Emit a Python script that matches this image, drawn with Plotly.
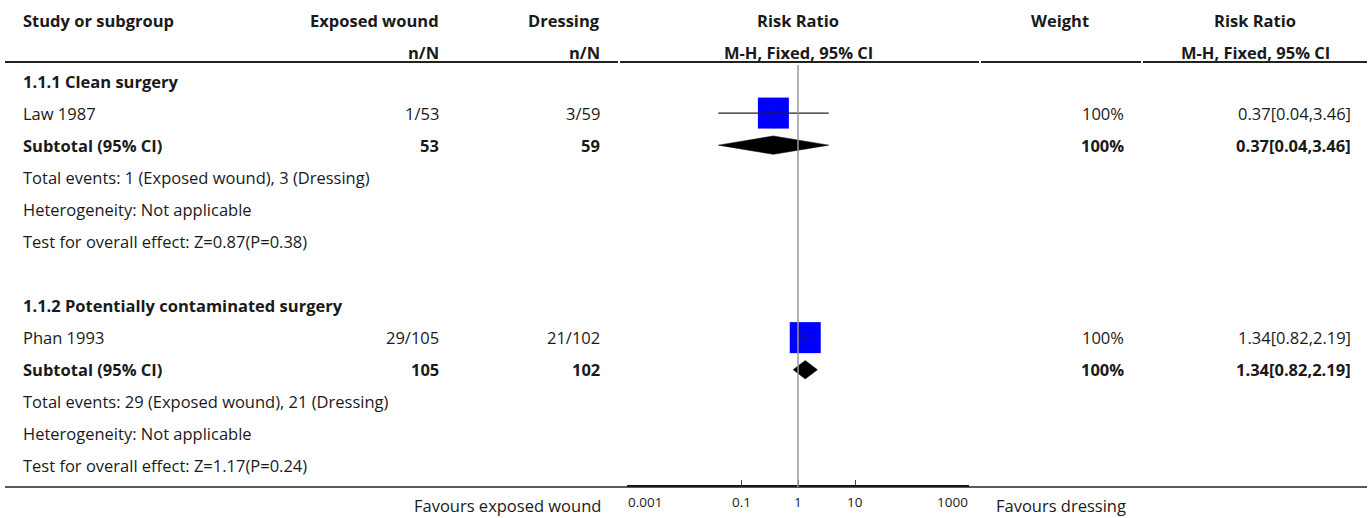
import math
import plotly.graph_objects as go

# ---- data -------------------------------------------------------------
subgroups = ["1.1.1 Clean surgery", "1.1.2 Potentially contaminated surgery"]
studies = ["Law 1987", "Phan 1993"]
exp_events = [1, 29]
exp_total = [53, 105]
ctl_events = [3, 21]
ctl_total = [59, 102]
rr = [0.37, 1.34]
ci_lo = [0.04, 0.82]
ci_hi = [3.46, 2.19]
weights = [100, 100]
z_vals = [0.87, 1.17]
p_vals = [0.38, 0.24]
tick_vals = [0.001, 0.1, 1, 10, 1000]
tick_text = ["0.001", "0.1", "1", "10", "1000"]

# ---- geometry ---------------------------------------------------------
W, H = 1370, 518
ROW0, ROWH = 81.0, 32.08          # pixel centre of row 0, row pitch


def row_of(px):
    return (px - ROW0) / ROWH


FONT = "Open Sans"
TXT = "#1a1a1a"
BODY = 16.5

fig = go.Figure()
annotations = []
shapes = []


def text(x_px, row, s, anchor="left", bold=False, size=BODY, color=TXT):
    annotations.append(dict(
        x=x_px / W, xref="paper", y=row, yref="y",
        text=f"<b>{s}</b>" if bold else s, showarrow=False,
        xanchor=anchor, yanchor="middle", align=anchor,
        borderpad=0,
        font=dict(family=FONT, size=size, color=color),
    ))


def hline(x0, x1, row, width, color="#222222"):
    shapes.append(dict(type="line", xref="paper", yref="y",
                       x0=x0 / W, x1=x1 / W, y0=row, y1=row,
                       line=dict(color=color, width=width)))


# column headers
h1, h2 = row_of(20), row_of(52)
text(22, h1, "Study or subgroup", bold=True)
text(440, h1, "Exposed wound", "right", bold=True)
text(440, h2, "n/N", "right", bold=True)
text(601, h1, "Dressing", "right", bold=True)
text(601, h2, "n/N", "right", bold=True)
text(798, h1, "Risk Ratio", "center", bold=True)
text(798, h2, "M-H, Fixed, 95% CI", "center", bold=True)
text(1060, h1, "Weight", "center", bold=True)
text(1255, h1, "Risk Ratio", "center", bold=True)
text(1255, h2, "M-H, Fixed, 95% CI", "center", bold=True)

# header rule, broken at column boundaries
for x0, x1 in [(5, 618), (620, 979), (981, 1141), (1143, 1367)]:
    hline(x0, x1, row_of(62), 2)

# bottom rule
hline(5, 1367, row_of(487), 1.5)

# reference line at RR = 1
shapes.append(dict(type="line", xref="x", yref="y", x0=1, x1=1,
                   y0=row_of(65), y1=row_of(487),
                   line=dict(color="#999999", width=1.5)))

# ---- body rows ---------------------------------------------------------
for g in range(2):
    base = 7 * g
    r_head, r_study, r_sub = base, base + 1, base + 2
    text(22, r_head, subgroups[g], bold=True)
    text(22, r_study, studies[g])
    text(440, r_study, f"{exp_events[g]}/{exp_total[g]}", "right")
    text(601, r_study, f"{ctl_events[g]}/{ctl_total[g]}", "right")
    est = f"{rr[g]:.2f}[{ci_lo[g]:.2f},{ci_hi[g]:.2f}]"
    text(1125, r_study, f"{weights[g]}%", "right")
    text(1352, r_study, est, "right")

    text(22, r_sub, "Subtotal (95% CI)", bold=True)
    text(440, r_sub, f"{exp_total[g]}", "right", bold=True)
    text(601, r_sub, f"{ctl_total[g]}", "right", bold=True)
    text(1125, r_sub, f"{weights[g]}%", "right", bold=True)
    text(1352, r_sub, est, "right", bold=True)

    text(22, base + 3, f"Total events: {exp_events[g]} (Exposed wound), "
                      f"{ctl_events[g]} (Dressing)")
    text(22, base + 4, "Heterogeneity: Not applicable")
    text(22, base + 5, f"Test for overall effect: Z={z_vals[g]:.2f}(P={p_vals[g]:.2f})")

    # study square, CI line and centre tick
    fig.add_trace(go.Scatter(
        x=[rr[g]], y=[r_study], mode="markers",
        marker=dict(symbol="square", size=31, color="#0000FF",
                    line=dict(width=0)),
        hoverinfo="skip", showlegend=False))
    fig.add_trace(go.Scatter(
        x=[ci_lo[g], ci_hi[g]], y=[r_study, r_study], mode="lines",
        line=dict(color="#222222", width=1.2),
        hoverinfo="skip", showlegend=False))
    fig.add_trace(go.Scatter(
        x=[rr[g]], y=[r_study], mode="markers",
        marker=dict(symbol="line-ns", size=8,
                    line=dict(color="#222222", width=1.2)),
        hoverinfo="skip", showlegend=False))

    # pooled diamond
    half = 9.2 / ROWH
    fig.add_trace(go.Scatter(
        x=[ci_lo[g], rr[g], ci_hi[g], rr[g], ci_lo[g]],
        y=[r_sub, r_sub - half, r_sub, r_sub + half, r_sub],
        mode="lines", fill="toself", fillcolor="#000000",
        line=dict(color="#000000", width=0.5),
        hoverinfo="skip", showlegend=False))

# tick labels: the outermost ones sit inside the axis ends
for i, (v, lab) in enumerate(zip(tick_vals, tick_text)):
    anchor = "left" if i == 0 else ("right" if i == len(tick_vals) - 1 else "center")
    annotations.append(dict(
        x=math.log10(v), xref="x", y=row_of(502), yref="y",
        text=lab, showarrow=False, xanchor=anchor, yanchor="middle",
        borderpad=0, font=dict(family=FONT, size=13.5, color=TXT)))

# axis captions
text(602, row_of(505), "Favours exposed wound", "right", size=16.5)
text(995, row_of(505), "Favours dressing", "left", size=16.5)

fig.update_layout(
    width=W, height=H,
    margin=dict(l=0, r=0, t=0, b=0, autoexpand=False),
    paper_bgcolor="white", plot_bgcolor="rgba(0,0,0,0)",
    annotations=annotations, shapes=shapes,
    xaxis=dict(type="log", range=[-3, 3],
               domain=[627 / W, 969 / W],
               anchor="free", position=1 - 486 / H,
               showline=True, linecolor="#111111", linewidth=2,
               ticks="inside", ticklen=5, tickwidth=1, tickcolor="#444444",
               tickvals=tick_vals, showticklabels=False,
               showgrid=False, zeroline=False, fixedrange=True),
    yaxis=dict(range=[row_of(H), row_of(0)], domain=[0, 1],
               visible=False, showgrid=False, zeroline=False,
               fixedrange=True),
)

fig.write_html("out.html")
